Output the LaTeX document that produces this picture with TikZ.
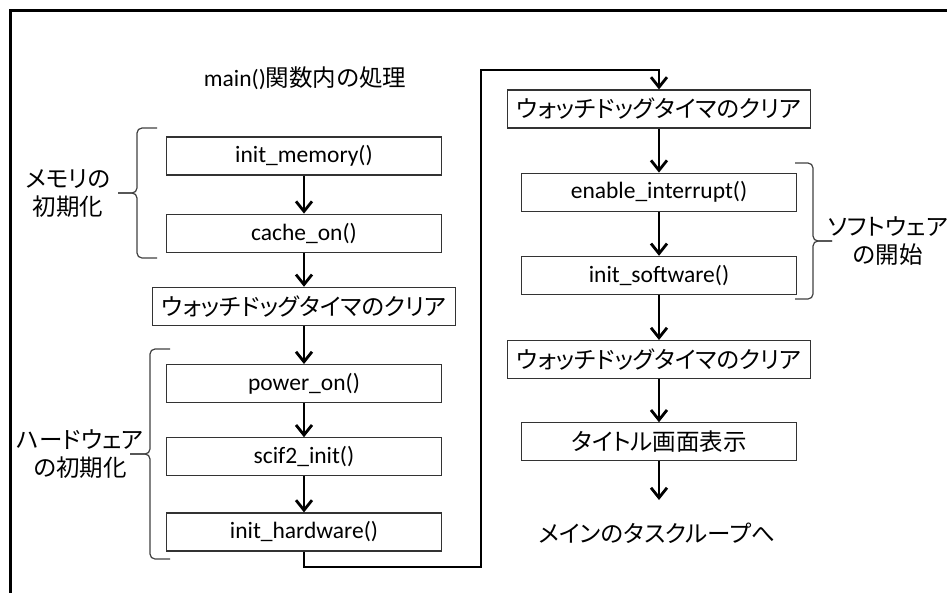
\documentclass[tikz,border=0pt]{standalone}
\usepackage{fontspec}
\setmainfont{Carlito}
\newfontfamily\jp[RawFeature=+palt]{Noto Sans CJK JP}
\usetikzlibrary{positioning}
\usetikzlibrary{arrows.meta}

\begin{document}
\begin{tikzpicture}[
x=1pt, y=-1pt,
every node/.style={font=\fontsize{23.5}{28}\selectfont},
jptext/.style={font=\fontsize{23.5}{28}\jp, align=center},
box/.style={draw=black!80, line width=1.2pt, minimum width=275pt, minimum height=38pt, inner sep=0},
wdbox/.style={box, minimum width=303pt, font=\fontsize{23.5}{28}\jp},
flow/.style={line width=2.8pt, -{Straight Barb[length=10pt,width=16pt]}},
bracket/.style={draw=black!75, line width=1.2pt, rounded corners=5pt},
frame/.style={line width=3pt}
]
\useasboundingbox (0,0) rectangle (947,592);
\draw[frame] (10,600) -- (10,10) -- (960,10);

\node (title) at (305,78) {main()\jp 関数内の処理};

% left column
\node[box] (mem) at (304,156) {init\_memory()};
\node[box, below=38pt of mem] (cache) {cache\_on()};
\node[wdbox, below=34pt of cache] (wdA) {ウォッチドッグタイマのクリア};
\node[box, below=38pt of wdA] (pwr) {power\_on()};
\node[box, below=34pt of pwr] (scif) {scif2\_init()};
\node[box, below=36pt of scif] (hw) {init\_hardware()};

% right column
\node[wdbox] (wdB) at (659,109) {ウォッチドッグタイマのクリア};
\node[box, below=44pt of wdB] (intr) {enable\_interrupt()};
\node[box, below=44pt of intr] (soft) {init\_software()};
\node[wdbox, below=45pt of soft] (wdC) {ウォッチドッグタイマのクリア};
\node[box, below=43pt of wdC, font=\fontsize{23.5}{28}\jp] (disp) {タイトル画面表示};
\coordinate (toloop) at (659,500);
\node[jptext] (mainloop) at (657,533) {メインのタスクループへ};

% side labels
\node[jptext] (memlbl) at (68,194) {メモリの\\初期化};
\node[jptext] (hwlbl) at (80,454) {ハードウェア\\の初期化};
\node[jptext] (swlbl) at (888,241) {ソフトウェア\\の開始};

\draw[bracket] (157,128) -- (137,128) -- (137,193) -- (118,193);
\draw[bracket] (157,258) -- (137,258) -- (137,193) -- (118,193);
\draw[bracket] (170,349) -- (150,349) -- (150,454) -- (130,454);
\draw[bracket] (170,559) -- (150,559) -- (150,454) -- (130,454);
\draw[bracket] (795,163) -- (813,163) -- (813,241) -- (832,241);
\draw[bracket] (795,299) -- (813,299) -- (813,241) -- (832,241);

% arrows
\draw[flow] (mem) -- (cache);
\draw[flow] (cache) -- (wdA);
\draw[flow] (wdA) -- (pwr);
\draw[flow] (pwr) -- (scif);
\draw[flow] (scif) -- (hw);
\coordinate (turnB) at (481,567);
\coordinate (turnT) at (481,70);
\draw[flow] (hw.south) |- (turnB) -- (turnT) -| (wdB.north);
\draw[flow] (wdB) -- (intr);
\draw[flow] (intr) -- (soft);
\draw[flow] (soft) -- (wdC);
\draw[flow] (wdC) -- (disp);
\draw[flow] (disp) -- (toloop);
\end{tikzpicture}
\end{document}
